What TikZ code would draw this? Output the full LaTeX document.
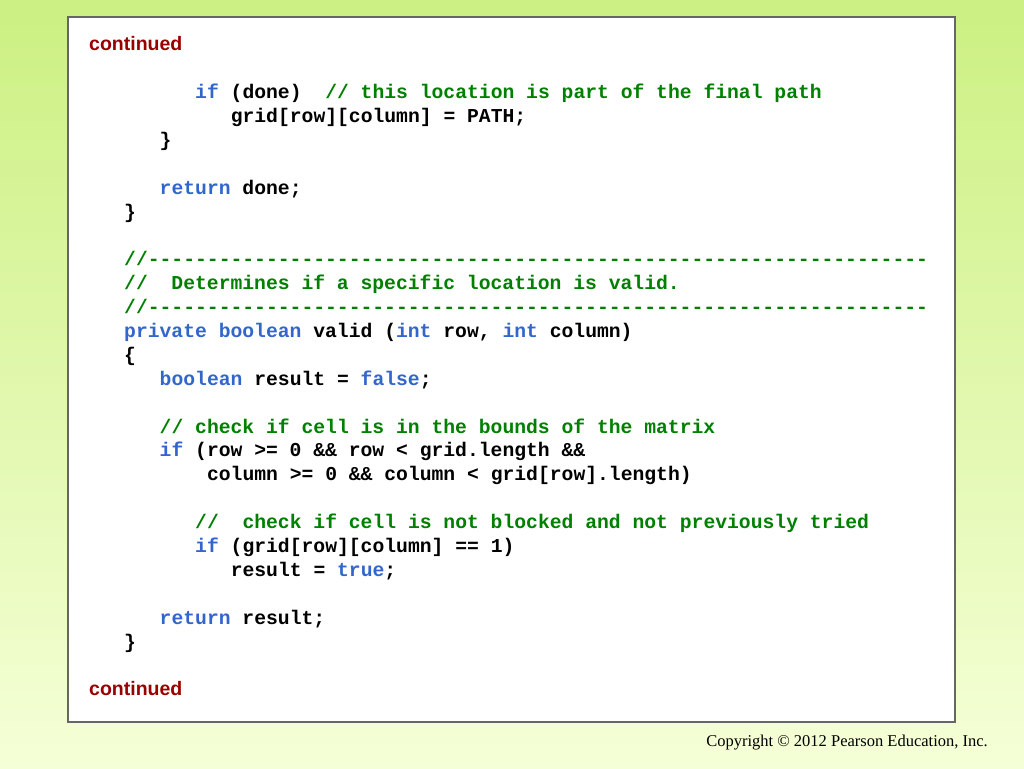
\documentclass[tikz,border=0pt]{standalone}
\usepackage{fontspec}
\setmonofont{Liberation Mono}
\setmainfont{Liberation Serif}
\newfontfamily\arialf{Liberation Sans}
\definecolor{kw}{RGB}{51,102,204}
\definecolor{cm}{RGB}{0,128,0}
\definecolor{rd}{RGB}{153,0,0}
\definecolor{bgtop}{RGB}{204,240,130}
\definecolor{bgbot}{RGB}{245,255,215}
\newcommand{\K}[1]{\textcolor{kw}{#1}}
\newcommand{\C}[1]{\textcolor{cm}{#1}}
\begin{document}
\begin{tikzpicture}[x=1pt,y=-1pt,
  code/.style={anchor=mid west,inner sep=0pt,font=\ttfamily\bfseries\fontsize{19.7}{24}\selectfont},
  cont/.style={anchor=mid west,inner sep=0pt,text=rd,font=\arialf\bfseries\fontsize{19.5}{22}\selectfont}]
\useasboundingbox (0,0) rectangle (1024,768);
\shade[top color=bgtop,bottom color=bgbot] (0,0) rectangle (1024,768);
\draw[fill=white,draw=gray!80!black,line width=1.2pt] (68,17) rectangle (955,722);
\def\cw{11.84}
\node[cont] (c1) at (89,48) {continued};
\node[cont] (c2) at (89,693) {continued};
\node[code] (l1) at (124+6*\cw,96) {\K{if} (done)~ \C{// this location is part of the final path}};
\node[code] (l2) at (124+9*\cw,120) {grid[row][column] = PATH;};
\node[code] (l3) at (124+3*\cw,144) {\}};
\node[code] (l4) at (124+3*\cw,192) {\K{return} done;};
\node[code] (l5) at (124,216) {\}};
\node[code,text=cm] (l6) at (124,263) {//------------------------------------------------------------------};
\node[code,text=cm] (l7) at (124,287) {//~ Determines if a specific location is valid.};
\node[code,text=cm] (l8) at (124,311) {//------------------------------------------------------------------};
\node[code] (l9) at (124,335) {\K{private} \K{boolean} valid (\K{int} row, \K{int} column)};
\node[code] (l10) at (124,359) {\{};
\node[code] (l11) at (124+3*\cw,383) {\K{boolean} result = \K{false};};
\node[code,text=cm] (l12) at (124+3*\cw,431) {// check if cell is in the bounds of the matrix};
\node[code] (l13) at (124+3*\cw,454) {\K{if} (row >= 0 \&\& row < grid.length \&\&};
\node[code] (l14) at (124+7*\cw,478) {column >= 0 \&\& column < grid[row].length)};
\node[code,text=cm] (l15) at (124+6*\cw,526) {//~ check if cell is not blocked and not previously tried};
\node[code] (l16) at (124+6*\cw,550) {\K{if} (grid[row][column] == 1)};
\node[code] (l17) at (124+9*\cw,574) {result = \K{true};};
\node[code] (l18) at (124+3*\cw,622) {\K{return} result;};
\node[code] (l19) at (124,646) {\}};
\node[anchor=mid east,inner sep=0pt,font=\fontsize{16.5}{18}\selectfont] (cp) at (988,744) {Copyright © 2012 Pearson Education, Inc.};
\end{tikzpicture}
\end{document}
